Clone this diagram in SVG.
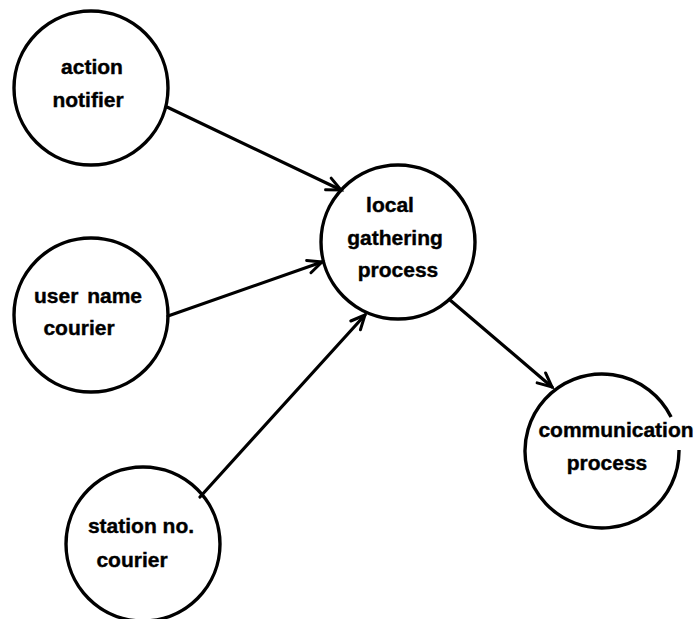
<svg xmlns="http://www.w3.org/2000/svg" width="699" height="619" viewBox="0 0 699 619">
  <style>
    .node { fill: none; stroke: #000; stroke-width: 3.4; }
    .label { font-family: "Liberation Sans", Arial, sans-serif; font-weight: bold; font-size: 21px; fill: #000; stroke: #000; stroke-width: 0.4; text-anchor: middle; }
    .edge { fill: none; stroke: #000; stroke-width: 3.2; stroke-linecap: round; }
  </style>
  <defs>
    <marker id="arrow" markerUnits="userSpaceOnUse" markerWidth="20" markerHeight="20" refX="0" refY="0" viewBox="-16 -10 20 20" orient="auto">
      <path d="M -14 -6.5 L 0 0 L -14 6.5" fill="none" stroke="#000" stroke-width="3" stroke-linecap="round" stroke-linejoin="miter"/>
    </marker>
  </defs>
  <rect width="699" height="619" fill="#fff"/>

  <g id="connectors">
    <line class="edge" x1="167" y1="107" x2="341" y2="190" marker-end="url(#arrow)"/>
    <line class="edge" x1="168" y1="316" x2="322" y2="262" marker-end="url(#arrow)"/>
    <line class="edge" x1="200" y1="497" x2="365" y2="315" marker-end="url(#arrow)"/>
    <line class="edge" x1="450" y1="300" x2="552" y2="387" marker-end="url(#arrow)"/>
  </g>

  <g id="action-notifier">
    <circle class="node" cx="91" cy="88" r="77"/>
    <text class="label" x="92" y="74">action</text>
    <text class="label" x="88" y="107">notifier</text>
  </g>

  <g id="user-name-courier">
    <circle class="node" cx="91" cy="315" r="77"/>
    <text class="label" x="88" y="303" word-spacing="3">user name</text>
    <text class="label" x="79" y="335">courier</text>
  </g>

  <g id="station-no-courier">
    <circle class="node" cx="143" cy="544" r="77"/>
    <text class="label" x="141" y="533">station no.</text>
    <text class="label" x="132" y="567">courier</text>
  </g>

  <g id="local-gathering-process">
    <circle class="node" cx="398" cy="242" r="77"/>
    <text class="label" x="390" y="212">local</text>
    <text class="label" x="395" y="245">gathering</text>
    <text class="label" x="398" y="277">process</text>
  </g>

  <g id="communication-process">
    <path class="node" d="M 679 450 A 77 77 0 1 1 671.1 417"/>
    <text class="label" x="616" y="437">communication</text>
    <text class="label" x="607" y="470">process</text>
  </g>
</svg>
